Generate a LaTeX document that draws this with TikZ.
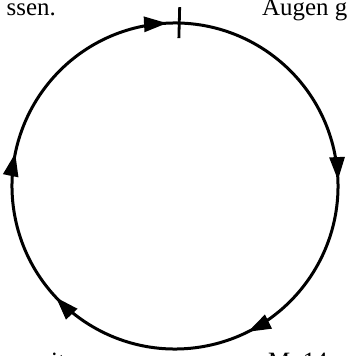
\documentclass[tikz,border=0pt]{standalone}
\usepackage{fontspec}
\setmainfont{Liberation Serif}
\usetikzlibrary{arrows.meta,decorations.markings,calc}
\tikzset{mytip/.tip={Triangle[length=23bp,width=15bp]}}
\begin{document}
\begin{tikzpicture}[x=1bp,y=1bp,
  txt/.style={inner sep=0pt,font=\fontsize{25}{28}\selectfont},
  ring/.style={line width=3bp}]
\useasboundingbox (0,0) rectangle (347,356);
\clip (0,0) rectangle (347,356);
\coordinate (c) at (175,170);
\draw[ring,postaction=decorate,decoration={markings,
  mark=at position 0.020 with {\arrow{mytip}},
  mark=at position 0.272 with {\arrow{mytip}},
  mark=at position 0.454 with {\arrow{mytip}},
  mark=at position 0.658 with {\arrow{mytip}},
  mark=at position 0.810 with {\arrow{mytip}}}]
  ($(c)+(100:163)$) arc[start angle=100,end angle=-260,radius=163];
\coordinate (t1) at ($(c)+(88.5:148)$);
\coordinate (t2) at ($(c)+(88.5:179)$);
\draw[line width=2.8bp] (t1) -- (t2);
\node[txt,anchor=base east] (a) at (56,341) {ssen.};
\node[txt,anchor=base west] (b) at (262,341) {Augen g};
\node[txt,anchor=base west] (d) at (51,-13) {it};
\node[txt,anchor=base west] (e) at (268,-13) {M. 14};
\end{tikzpicture}
\end{document}
